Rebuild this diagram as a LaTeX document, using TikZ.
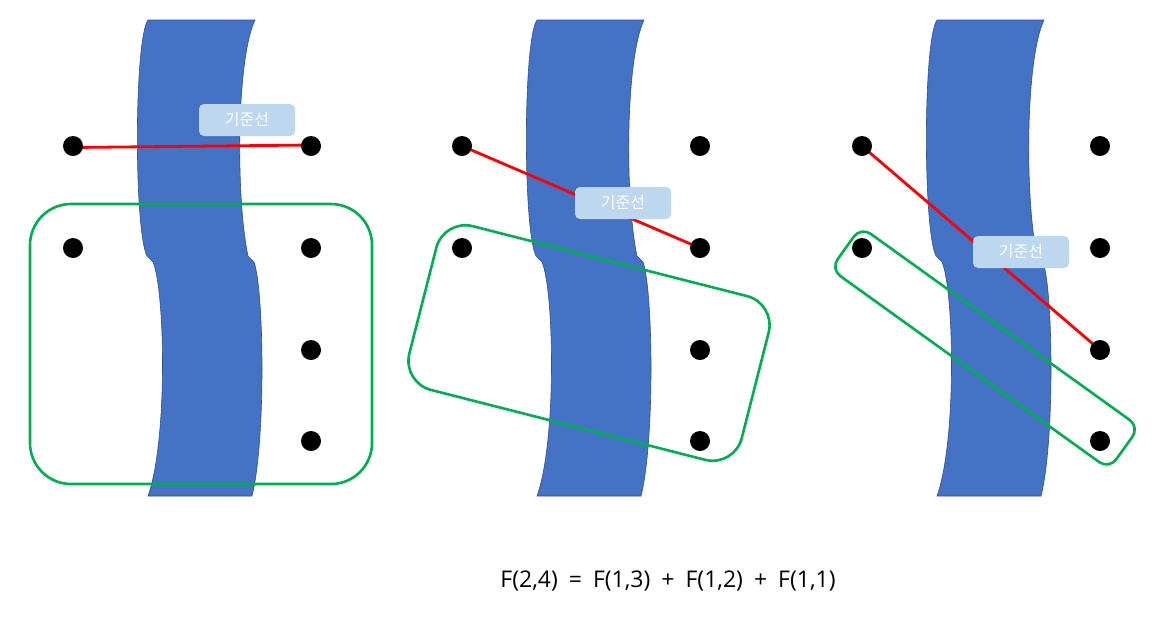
\documentclass[tikz,border=0pt]{standalone}
\usepackage{fontspec}
\setmainfont{Open Sans}
\newfontfamily\krfont{Noto Sans CJK KR}
\usetikzlibrary{calc}
\pgfdeclarelayer{bg}
\pgfdeclarelayer{mid}
\pgfsetlayers{bg,mid,main}
\definecolor{riverblue}{HTML}{4472C4}
\definecolor{riveredge}{HTML}{2F528F}
\definecolor{lblue}{HTML}{BDD7EE}
\definecolor{grn}{HTML}{00B050}
\tikzset{
  dot/.style={circle,fill=black,minimum size=20pt,inner sep=0pt},
  riverfill/.style={fill=riverblue,draw=riveredge,line width=0.6pt},
  grp/.style={draw=grn,line width=2.6pt,inner sep=0pt,outer sep=0pt},
  refline/.style={draw=red,line width=2.8pt},
  tag/.style={fill=lblue,rounded corners=5pt,minimum width=96pt,minimum height=32pt,inner sep=0pt,text=white,font=\krfont\fontsize{16}{19}\selectfont},
  riverpic/.pic={
    \path[riverfill] (148,20) -- (255,20) .. controls (236,60) and (236,200) .. (248,256)
      -- (254,262) .. controls (264,290) and (266,440) .. (252,496)
      -- (148,496) .. controls (168,440) and (165,290) .. (153,262)
      -- (147,256) .. controls (134,230) and (134,40) .. (148,20) -- cycle;
  }
}
\begin{document}
\begin{tikzpicture}[x=1pt,y=-1pt]
\useasboundingbox (0,0) rectangle (1164,622);
% dots
\foreach \p/\s in {a/0,b/389,c/789}{
  \node[dot] (\p L1) at (73+\s,146) {};
  \node[dot] (\p L2) at (73+\s,248) {};
  \node[dot] (\p R1) at (311+\s,146) {};
  \node[dot] (\p R2) at (311+\s,248) {};
  \node[dot] (\p R3) at (311+\s,350) {};
  \node[dot] (\p R4) at (311+\s,441) {};
}
\begin{pgfonlayer}{bg}
  \fill[white] (0,0) rectangle (1164,622);
  \pic at (0,0) {riverpic};
  \pic at (389,0) {riverpic};
  \pic at (789,0) {riverpic};
\end{pgfonlayer}
\begin{pgfonlayer}{mid}
  \node[grp,rounded corners=41pt,minimum width=342pt,minimum height=280pt] (g1) at (201,344) {};
  \node[grp,rounded corners=30pt,minimum width=343pt,minimum height=169pt,rotate=-14.3] (g2) at (589,343) {};
  \node[grp,rounded corners=12pt,minimum width=343pt,minimum height=52pt,rotate=-35.7] (g3) at (985,348) {};
  \draw[refline] ($(aL1.center)+(0,1.5)$) -- ($(aR1.center)+(0,-1)$);
  \draw[refline] (bL1.center) -- (bR2.center);
  \draw[refline] (cL1.center) -- (cR3.center);
\end{pgfonlayer}
\node[tag] (t1) at (247,120) {기준선};
\node[tag] (t2) at (623,203) {기준선};
\node[tag] (t3) at (1021,252) {기준선};
\node[font=\fontsize{23}{27}\selectfont,inner sep=0pt] (f) at (668,581) {F(2,4)\hspace{11pt}=\hspace{11pt}F(1,3)\hspace{11pt}+\hspace{11pt}F(1,2)\hspace{11pt}+\hspace{11pt}F(1,1)};
\end{tikzpicture}
\end{document}
